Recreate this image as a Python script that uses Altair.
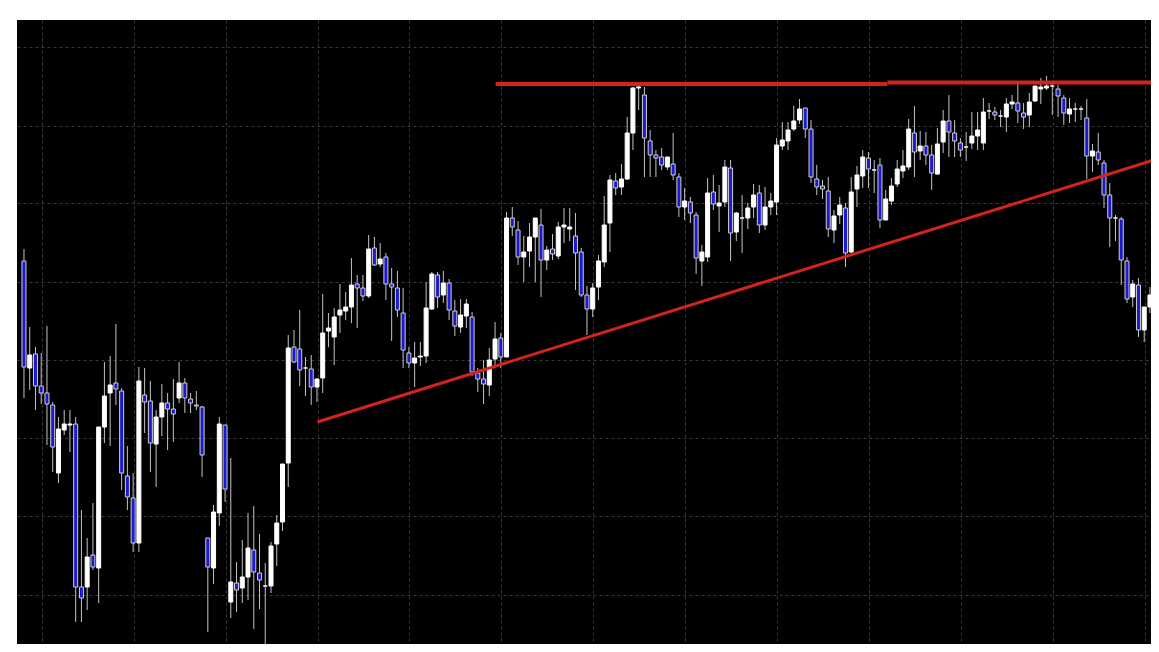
import altair as alt
import pandas as pd
import numpy as np

# OHLC quotes (points), one per candle, left to right
opens = [439,332,346,314,307,295,227,270,275,276,113,113,145,132,273,307,317,309,224,202,
         157,305,299,256,283,297,291,302,317,301,295,293,162,132,187,275,98,117,112,123,
         150,127,114,114,156,178,237,353,351,332,331,313,322,369,363,385,389,393,416,412,
         404,452,436,443,416,412,387,347,337,343,344,391,425,405,417,389,373,384,383,327,
         321,315,341,362,343,482,470,443,449,463,475,440,451,444,473,471,464,448,405,391,
         413,438,477,519,513,521,567,612,605,559,545,543,533,536,523,493,498,485,439,443,
         508,494,498,532,468,482,482,493,507,475,493,498,554,559,571,580,592,571,521,514,
         509,470,485,492,448,511,524,542,530,535,480,499,516,529,533,567,549,554,545,526,
         558,579,567,557,553,557,564,557,589,588,584,583,596,597,587,585,599,611,612,614,
         611,602,586,591,591,582,544,548,537,505,482,481,439,403,415,370,393]
highs = [451,373,353,347,374,298,283,290,290,283,190,162,197,273,338,344,376,312,254,227,
         333,332,319,290,316,307,321,338,322,307,309,294,162,195,283,275,242,138,160,187,
         194,166,137,158,185,236,365,370,390,343,345,322,406,387,392,416,408,442,425,425,
         465,463,457,447,432,429,412,353,358,358,418,428,428,429,421,400,401,401,388,332,
         340,352,378,367,488,493,479,464,477,482,491,454,466,478,492,492,487,452,414,417,
         445,504,525,527,536,583,613,615,613,570,550,552,543,567,527,512,503,488,455,522,
         525,515,540,540,488,505,497,516,515,513,507,562,578,578,594,601,592,580,535,520,
         523,490,503,497,523,534,550,548,540,542,510,522,540,550,581,594,569,568,555,572,
         590,605,580,562,568,588,588,602,597,593,590,602,605,618,597,607,614,622,624,617,
         615,605,602,597,594,601,556,567,540,517,485,483,443,420,422,393,413]
lows = [302,310,290,296,255,228,217,265,248,78,78,90,130,97,257,254,295,210,190,148,
        148,267,228,213,264,250,258,297,287,287,290,223,68,116,174,198,82,88,97,100,
        71,91,48,107,134,169,213,337,314,304,295,298,307,353,335,367,380,377,372,399,
        402,434,433,400,359,383,332,332,313,334,337,390,392,397,380,364,367,372,324,308,
        296,304,332,332,343,464,435,418,433,418,403,430,440,441,457,459,410,403,365,383,
        400,433,448,505,505,520,550,590,523,523,523,530,530,520,483,480,477,426,414,438,
        490,468,493,439,459,447,471,482,467,470,485,485,550,550,569,576,562,517,505,501,
        463,457,476,433,447,493,512,512,507,472,480,495,513,522,530,523,540,535,510,525,
        547,543,543,543,539,551,550,550,581,580,573,568,591,577,571,573,598,596,610,585,
        583,575,577,578,580,521,528,535,492,453,459,415,397,393,363,358,387]
closes = [333,345,314,307,296,253,271,276,276,113,102,143,133,273,304,315,311,227,203,157,
          319,298,257,283,297,291,286,317,302,297,294,245,133,188,276,211,118,110,123,152,
          128,120,114,154,177,236,352,338,330,332,313,321,367,372,383,390,393,415,412,404,
          451,435,441,416,413,390,350,337,342,344,392,426,403,417,390,374,385,396,328,321,
          316,340,361,343,482,473,443,448,463,482,440,450,446,473,475,473,447,405,391,412,
          439,475,520,512,521,567,612,613,562,545,542,535,543,525,493,499,487,442,448,507,
          496,497,533,467,487,482,492,505,475,493,499,555,560,570,579,591,571,523,513,511,
          471,484,495,447,508,525,543,531,530,480,501,514,531,534,571,548,554,545,527,556,
          579,568,559,550,553,564,570,588,589,585,584,596,598,589,583,598,614,613,614,614,
          604,587,591,591,591,544,549,540,505,482,482,440,401,416,370,393,405]

# dashed grid positions (candle index / price)
grid_x = [3.1, 19.1, 35.1, 51.1, 67.1, 83.1, 99.1, 115.1, 131.1, 147.1, 163.1, 179.1, 195.1]
grid_y = [105, 184, 262, 340, 418, 497, 574, 653]

# red drawn lines: start index, end index, start price, end price, width
line_x1 = [51.07, 82.1, 150.3]
line_x2 = [196.69, 150.3, 196.69]
line_y1 = [278, 616, 617.5]
line_y2 = [540, 616, 617.5]
line_w = [3, 4, 4]

n = len(opens)
df = pd.DataFrame({"i": np.arange(n), "open": opens, "high": highs,
                   "low": lows, "close": closes})
df["dir"] = np.where(df["close"] < df["open"], "down", "up")

seg = pd.DataFrame({"x": line_x1, "x2": line_x2, "y": line_y1, "y2": line_y2, "w": line_w})

xscale = alt.Scale(domain=[-0.345, 195.31], nice=False, zero=False)
yscale = alt.Scale(domain=[56, 680], nice=False, zero=False)
xaxis = alt.Axis(values=grid_x, labels=False, ticks=False, domain=False, grid=True,
                 gridColor="#3a3a3a", gridDash=[3, 3], gridWidth=1, title=None)
yaxis = alt.Axis(values=grid_y, labels=False, ticks=False, domain=False, grid=True,
                 gridColor="#3a3a3a", gridDash=[3, 3], gridWidth=1, title=None)

base = alt.Chart(df)

wicks = base.mark_rule(color="#c4c4c4", strokeWidth=1, clip=True).encode(
    x=alt.X("i:Q", scale=xscale, axis=xaxis),
    y=alt.Y("low:Q", scale=yscale, axis=yaxis),
    y2="high:Q",
)

bodies = base.mark_bar(size=4, strokeWidth=1, clip=True).encode(
    x=alt.X("i:Q", scale=xscale, axis=xaxis),
    y=alt.Y("open:Q", scale=yscale, axis=yaxis),
    y2="close:Q",
    fill=alt.Fill("dir:N", scale=alt.Scale(domain=["down", "up"], range=["#1a1ad0", "#ffffff"]), legend=None),
    stroke=alt.Stroke("dir:N", scale=alt.Scale(domain=["down", "up"], range=["#d0d0d0", "#ffffff"]), legend=None),
)

lines = alt.Chart(seg).mark_rule(color="#d2231c", strokeCap="butt", clip=True).encode(
    x=alt.X("x:Q", scale=xscale, axis=xaxis),
    x2="x2:Q",
    y=alt.Y("y:Q", scale=yscale, axis=yaxis),
    y2="y2:Q",
    strokeWidth=alt.StrokeWidth("w:Q", scale=None),
)

chart = alt.layer(wicks, bodies, lines).properties(
    width=1134, height=624,
    padding={"left": 9, "top": 12, "right": 0, "bottom": 0},
    autosize=alt.AutoSizeParams(type="none"),
    background="white",
).configure_view(fill="black", strokeWidth=0)

chart.save("out.html", embed_options={"renderer": "svg", "actions": False})
